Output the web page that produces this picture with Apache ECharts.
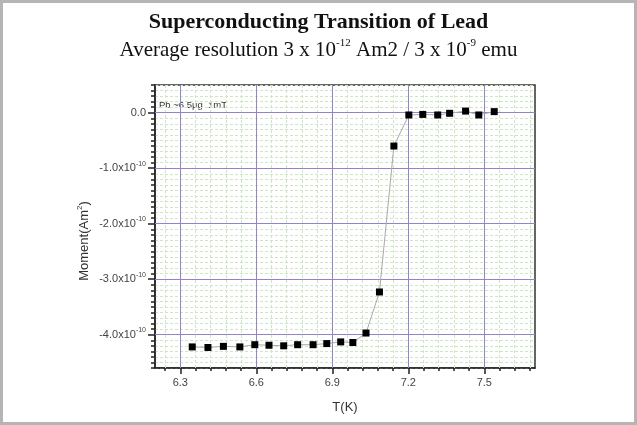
<!DOCTYPE html>
<html>
<head>
<meta charset="utf-8">
<title>Superconducting Transition of Lead</title>
<script src="https://cdn.jsdelivr.net/npm/echarts@6/dist/echarts.min.js"></script>
<style>
  html, body { margin: 0; padding: 0; background: #fff; }
  #chart { width: 637px; height: 425px; }
</style>
</head>
<body>
<div id="chart"></div>
<script>
// temperature, K
const tempK = [6.347, 6.409, 6.470, 6.535, 6.594, 6.650, 6.708, 6.763, 6.824, 6.878, 6.933,
  6.981, 7.033, 7.086, 7.143, 7.202, 7.257, 7.316, 7.363, 7.426, 7.478, 7.539]
// moment, in units of 1e-10 Am^2
const moment = [-4.22, -4.23, -4.21, -4.22, -4.18, -4.19, -4.20, -4.18, -4.18, -4.16, -4.13,
  -4.14, -3.97, -3.23, -0.60, -0.04, -0.03, -0.04, -0.01, 0.03, -0.04, 0.02]
// axis ticks
const xMajor = [6.3, 6.6, 6.9, 7.2, 7.5]
const yMajor = [0, -1, -2, -3, -4]
const note = 'Pb ~6.5\u00b5g  1mT'

// minor x ticks every 0.06 K
let xMinor = []
for (let i = 104; i <= 128; i++) xMinor.push(+(i * 0.06).toFixed(2))

const points = tempK.map((t, i) => [t, moment[i]])

const purple = '#9384c9'
const green = '#cde6c6'
const labelFont = 'Liberation Sans'

// grid lines drawn as markLines on the data scales
let gridLines = []
xMinor.forEach(v => {
  if (!xMajor.some(m => Math.abs(m - v) < 1e-6))
    gridLines.push({ xAxis: v, lineStyle: { color: green, type: [3, 2], width: 1 } })
})
xMajor.forEach(v => gridLines.push({ xAxis: v, lineStyle: { color: purple, type: 'solid', width: 1 } }))
yMajor.forEach(v => gridLines.push({ yAxis: v, lineStyle: { color: purple, type: 'solid', width: 1 } }))

let chart = echarts.init(document.getElementById('chart'))
chart.setOption({
  animation: false,
  backgroundColor: '#fff',
  title: {
    text: 'Superconducting Transition of Lead',
    subtext: 'Average resolution 3 x 10{s|-12} Am2 / 3 x 10{s|-9} emu',
    left: 'center',
    top: 6,
    itemGap: 5,
    textStyle: {
      fontFamily: 'Liberation Serif',
      fontWeight: 'bold',
      fontSize: 22,
      color: '#111'
    },
    subtextStyle: {
      fontFamily: 'Liberation Serif',
      fontSize: 21,
      lineHeight: 24,
      color: '#111',
      rich: {
        s: { fontFamily: 'Liberation Serif', fontSize: 11, lineHeight: 24, verticalAlign: 'top', color: '#111' }
      }
    }
  },
  grid: {
    left: 155,
    right: 102,
    top: 85,
    bottom: 57,
    show: true,
    backgroundColor: '#fff',
    borderColor: '#333',
    borderWidth: 1.5
  },
  xAxis: [
    {
      type: 'value',
      min: 6.2,
      max: 7.7,
      position: 'bottom',
      name: 'T(K)',
      nameLocation: 'middle',
      nameGap: 33,
      nameTextStyle: { fontFamily: labelFont, fontSize: 13, color: '#333' },
      axisLine: { onZero: false, lineStyle: { color: '#222', width: 1.5 } },
      axisTick: { customValues: xMinor, length: 3, lineStyle: { color: '#222', width: 1.5 } },
      axisLabel: {
        customValues: xMajor,
        formatter: v => v.toFixed(1),
        margin: 9,
        fontFamily: labelFont,
        fontSize: 11,
        color: '#444'
      },
      splitLine: { show: false }
    },
    {
      type: 'value',
      min: 6.2,
      max: 7.7,
      position: 'bottom',
      axisLine: { show: false, onZero: false },
      axisTick: { customValues: xMajor, length: 6, lineStyle: { color: '#222', width: 1.5 } },
      axisLabel: { show: false },
      splitLine: { show: false }
    }
  ],
  yAxis: [
    {
      type: 'value',
      min: -4.6,
      max: 0.5,
      interval: 0.1,
      position: 'left',
      axisLine: { show: true, onZero: false, lineStyle: { color: '#222', width: 1.5 } },
      axisTick: { length: 4, lineStyle: { color: '#222', width: 1.5 } },
      axisLabel: {
        margin: 9,
        fontFamily: labelFont,
        fontSize: 11,
        color: '#444',
        formatter: function (v) {
          const r = Math.round(v)
          if (Math.abs(v - r) > 1e-6) return ''
          if (r === 0) return '0.0'
          return '{b|' + r.toFixed(1) + 'x10}{s|-10}'
        },
        rich: {
          b: { fontFamily: labelFont, fontSize: 11, lineHeight: 16, color: '#444' },
          s: { fontFamily: labelFont, fontSize: 7, lineHeight: 16, verticalAlign: 'top', color: '#444' }
        }
      },
      splitLine: { show: true, lineStyle: { color: green, type: [3, 2], width: 1 } }
    },
    {
      type: 'value',
      min: -4.6,
      max: 0.5,
      position: 'left',
      axisLine: { show: false, onZero: false },
      axisTick: { show: true, customValues: yMajor, length: 7, lineStyle: { color: '#222', width: 1.5 } },
      axisLabel: { show: false },
      splitLine: { show: false }
    }
  ],
  graphic: [
    {
      type: 'rect',
      shape: { x: 1.5, y: 1.5, width: 634, height: 422 },
      style: { fill: 'none', stroke: '#b5b5b5', lineWidth: 3 },
      silent: true
    },
    {
      type: 'text',
      x: 84,
      y: 241,
      rotation: Math.PI / 2,
      style: {
        text: 'Moment(Am{s|2})',
        fontFamily: labelFont,
        fontSize: 13,
        fill: '#333',
        align: 'center',
        verticalAlign: 'middle',
        rich: {
          s: { fontFamily: labelFont, fontSize: 8, lineHeight: 16, verticalAlign: 'top', fill: '#333' }
        }
      }
    },
    {
      type: 'text',
      x: 159,
      y: 105,
      style: {
        text: note,
        fontFamily: labelFont,
        fontSize: 9.5,
        fill: '#333',
        verticalAlign: 'middle'
      }
    }
  ],
  series: [
    {
      type: 'line',
      data: points,
      symbol: 'none',
      showSymbol: false,
      z: 2,
      lineStyle: { color: '#aaa', width: 1 },
      markLine: {
        z: 1,
        silent: true,
        symbol: 'none',
        label: { show: false },
        data: gridLines
      }
    },
    {
      type: 'scatter',
      data: points,
      symbol: 'rect',
      symbolSize: 7,
      z: 10,
      itemStyle: { color: '#000', borderWidth: 0, opacity: 1 }
    }
  ]
})
</script>
</body>
</html>
